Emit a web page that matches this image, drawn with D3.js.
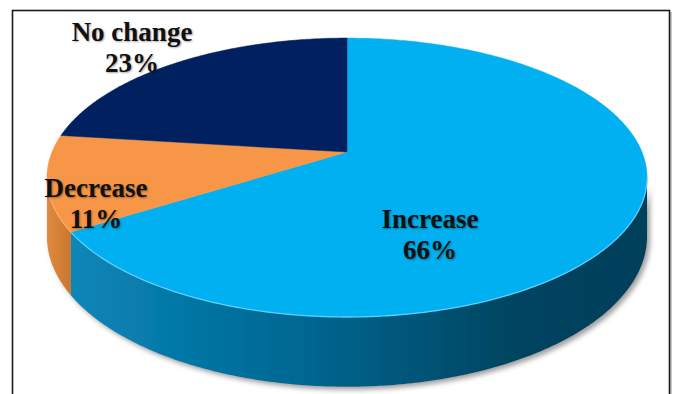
<!DOCTYPE html>
<html>
<head>
<meta charset="utf-8">
<script src="https://cdn.jsdelivr.net/npm/d3@7"></script>
<style>
  html, body { margin: 0; padding: 0; background: #fff; }
  svg { display: block; }
  text { font-family: "Liberation Serif", "Times New Roman", serif; font-weight: bold; }
</style>
</head>
<body>
<svg id="chart" width="675" height="394"></svg>
<script>
// ---- data ----
const categories = ["Increase", "Decrease", "No change"];
const values = [66, 11, 23];
const pctLabels = ["66%", "11%", "23%"];
const topColors = ["#00b0f0", "#f79646", "#002060"];
const sideColors = [["#0a86b8", "#006792", "#00445f", "#00405a"], ["#e08a3e", "#c8772f"], ["#001a50", "#001540"]];

// ---- geometry (perspective projection of a horizontal disk) ----
const W = 675, H = 394;
const cx = 347, cy = 152;   // projected pie centre
const a = 295, b = 134.8;   // radii before perspective division
const e = 0.183;            // perspective strength
const depth = 57;           // extrusion depth

function proj(theta, d) {
  const u = Math.sin(theta), v = -Math.cos(theta);
  const w = 1 - e * v;
  return [cx + a * u / w, cy + b * v / w + (d || 0) / w];
}
function arcPts(t0, t1, d) {
  const n = Math.max(2, Math.ceil(Math.abs(t1 - t0) / 0.01));
  return d3.range(n + 1).map(i => proj(t0 + (t1 - t0) * i / n, d));
}

const svg = d3.select("#chart");
const defs = svg.append("defs");

// frame
svg.append("line").attr("x1", 671).attr("x2", 671).attr("y1", 12).attr("y2", H)
  .attr("stroke", "#c8c8c8").attr("stroke-width", 2);
svg.append("rect").attr("x", 12.5).attr("y", 10.5).attr("width", 657).attr("height", 420)
  .attr("fill", "none").attr("stroke", "#1a1a1a").attr("stroke-width", 1.6);

const pie = d3.pie().sort(null).value(d => d).startAngle(0).endAngle(2 * Math.PI);
const arcs = pie(values);

// shadow filter
const f = defs.append("filter").attr("id", "shadow").attr("x", "-10%").attr("y", "-10%").attr("width", "120%").attr("height", "130%");
f.append("feDropShadow").attr("dx", 3).attr("dy", 3).attr("stdDeviation", 2.5)
  .attr("flood-color", "#777").attr("flood-opacity", 0.7);

// visible wall range (silhouette where sin = e)
const visStart = Math.acos(-e);              // right silhouette
const visEnd = 2 * Math.PI - Math.acos(-e);  // left silhouette

const line = d3.line();
const wallG = svg.append("g").attr("filter", "url(#shadow)");

// whole silhouette base for shadow
arcs.forEach((d, i) => {
  const t0 = Math.max(d.startAngle, visStart), t1 = Math.min(d.endAngle, visEnd);
  if (t1 <= t0) return;
  const top = arcPts(t0, t1, 0);
  const bot = arcPts(t1, t0, depth);
  const gid = "side" + i;
  const xs = top.map(p => p[0]);
  const g = defs.append("linearGradient").attr("id", gid).attr("gradientUnits", "userSpaceOnUse")
    .attr("x1", d3.min(xs)).attr("x2", d3.max(xs)).attr("y1", 0).attr("y2", 0);
  const stops = sideColors[i];
  const offs = stops.length === 4 ? [0, 0.4, 0.78, 1] : stops.map((s, k) => k / (stops.length - 1));
  stops.forEach((c, k) => g.append("stop").attr("offset", offs[k]).attr("stop-color", c));
  wallG.append("path").attr("d", line(top.concat(bot)) + "Z").attr("fill", "url(#" + gid + ")");
});

// top faces
const topG = svg.append("g");
arcs.forEach((d, i) => {
  const pts = [proj(0, 0).map((v, k) => k === 0 ? cx : cy)].concat(arcPts(d.startAngle, d.endAngle, 0));
  topG.append("path").attr("d", line(pts) + "Z").attr("fill", topColors[i])
    .attr("stroke", topColors[i]).attr("stroke-width", 0.5);
});

// rim highlight on front edge of the top face
arcs.forEach((d, i) => {
  const t0 = Math.max(d.startAngle, visStart), t1 = Math.min(d.endAngle, visEnd);
  if (t1 <= t0) return;
  topG.append("path").attr("d", line(arcPts(t0, t1, 0))).attr("fill", "none")
    .attr("stroke", i === 0 ? "#6fd6ff" : "#ffb070").attr("stroke-width", 1.3).attr("opacity", 0.8);
});

// labels
const labelPos = [[430, 228], [96, 197], [132, 41]];
const lg = svg.append("g");
categories.forEach((c, i) => {
  const t = lg.append("text").attr("x", labelPos[i][0]).attr("y", labelPos[i][1])
    .attr("text-anchor", "middle").attr("font-size", 27).attr("fill", "#111")
    .style("text-shadow", "1px 1px 2px rgba(0,0,0,0.35)");
  t.append("tspan").attr("x", labelPos[i][0]).attr("dy", 0).text(c);
  t.append("tspan").attr("x", labelPos[i][0]).attr("dy", 31).text(pctLabels[i]);
});
</script>
</body>
</html>
